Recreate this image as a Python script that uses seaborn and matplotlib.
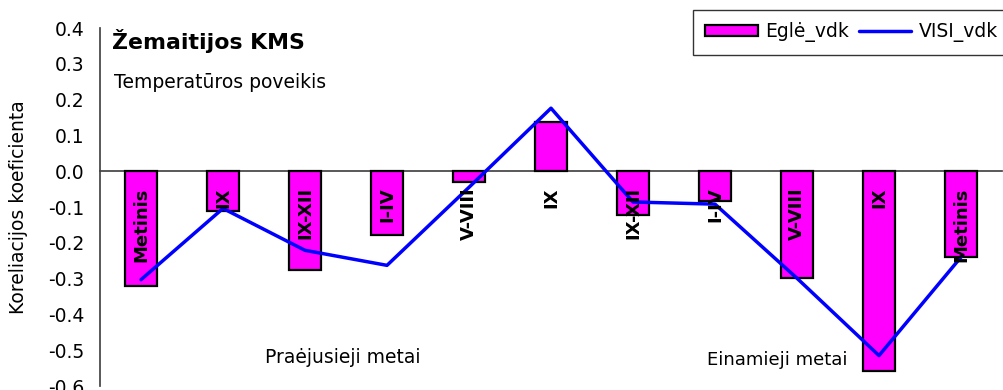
import matplotlib
matplotlib.use("Agg")
import matplotlib.pyplot as plt
import seaborn as sns
import numpy as np
import pandas as pd

categories = ["Metinis", "IX", "IX-XII", "I-IV", "V-VIII", "IX", "IX-XII", "I-IV", "V-VIII", "IX", "Metinis"]
egle_vdk = [-0.32, -0.11, -0.275, -0.178, -0.031, 0.138, -0.123, -0.083, -0.298, -0.559, -0.239]
visi_vdk = [-0.303, -0.104, -0.221, -0.263, -0.045, 0.176, -0.086, -0.092, -0.299, -0.515, -0.24]
yticks = [-0.6, -0.5, -0.4, -0.3, -0.2, -0.1, 0.0, 0.1, 0.2, 0.3, 0.4]

sns.set_theme(style="white")
plt.rcParams['font.family'] = ['DejaVu Sans']
plt.rcParams['text.color'] = 'black'
plt.rcParams['axes.labelcolor'] = 'black'
plt.rcParams['xtick.color'] = 'black'
plt.rcParams['ytick.color'] = 'black'

pos = list(range(len(categories)))
df = pd.DataFrame({"pos": pos, "cat": categories, "egle": egle_vdk, "visi": visi_vdk})

fig = plt.figure(figsize=(10.04, 3.9), dpi=100)
ax = fig.add_axes([100/1004, 4/390, 902/1004, 358/390])

sns.barplot(data=df, x="pos", y="egle", color="#FF00FF", width=0.4, saturation=1,
            edgecolor="black", linewidth=1.6, ax=ax, label="Eglė_vdk", zorder=2)
sns.lineplot(data=df, x="pos", y="visi", color="#0000FF", linewidth=2.5, ax=ax,
             label="VISI_vdk", zorder=3)

for p, c in zip(pos, categories):
    ax.text(p, -0.045, c, rotation=90, ha="center", va="top", fontsize=13,
            fontweight="bold", color="black", zorder=4)

ax.set_xlim(-0.5, len(categories) - 0.5)
ax.set_ylim(-0.6, 0.4)
ax.set_yticks(yticks)
ax.set_yticklabels([f"{v:.1f}" for v in yticks], fontsize=13.5, color="black")
ax.set_xticks(np.arange(0.5, len(categories) - 1, 1.0))
ax.set_xticklabels([])
ax.set_xlabel("")
ax.set_ylabel("Koreliacijos koeficienta", fontsize=13.5, labelpad=14, color="black")

for s in ["top", "right"]:
    ax.spines[s].set_visible(False)
ax.spines["bottom"].set_position(("data", 0))
ax.spines["bottom"].set_color("#444444")
ax.spines["left"].set_color("#444444")
ax.spines["bottom"].set_zorder(1)
ax.tick_params(axis="y", direction="inout", length=12, width=1, color="#444444",
               labelcolor="black", pad=5.5)
ax.tick_params(axis="x", direction="inout", length=12, width=1, color="#444444")

ax.text(0.013, 0.965, "Žemaitijos KMS", transform=ax.transAxes, fontsize=15.8,
        fontweight="bold", va="center", ha="left", color="black")
ax.text(0.015, 0.849, "Temperatūros poveikis", transform=ax.transAxes, fontsize=13.5,
        va="center", ha="left", color="black")
ax.text(2.46, -0.52, "Praėjusieji metai", fontsize=13.5, ha="center", va="center", color="black")
ax.text(7.76, -0.528, "Einamieji metai", fontsize=13, ha="center", va="center", color="black")

handles, labels = ax.get_legend_handles_labels()
order = [labels.index("Eglė_vdk"), labels.index("VISI_vdk")]
leg = ax.legend([handles[i] for i in order], [labels[i] for i in order],
                loc="upper left", bbox_to_anchor=(693/1004, 380/390),
                bbox_transform=fig.transFigure, ncol=2, frameon=True, fancybox=False,
                fontsize=13.5, borderaxespad=0, handlelength=2.8, handleheight=0.5,
                columnspacing=0.5, handletextpad=0.4, borderpad=0.66)
leg.get_frame().set_edgecolor("black")
leg.get_frame().set_linewidth(1.0)
for t in leg.get_texts():
    t.set_color("black")

fig.savefig("out.png", dpi=100)
